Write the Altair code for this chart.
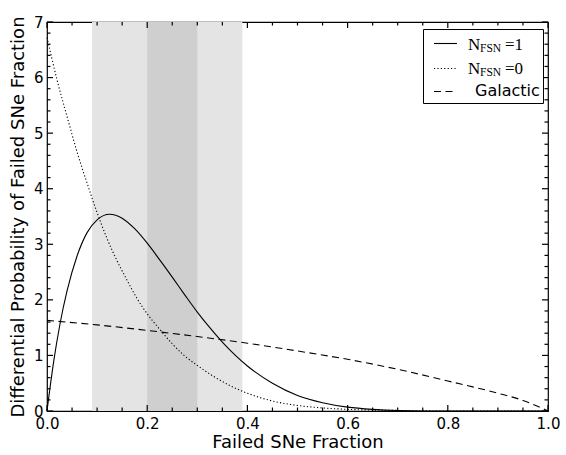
import altair as alt
import pandas as pd

# ---------------- data ----------------
x_solid = [0.0, 0.013, 0.026, 0.04, 0.06, 0.08, 0.1, 0.125, 0.15, 0.175, 0.2, 0.225,
           0.25, 0.275, 0.3, 0.325, 0.35, 0.375, 0.4, 0.45, 0.5, 0.55, 0.6, 0.65,
           0.7, 0.8, 0.9, 1.0]
y_solid = [0.0, 0.87, 1.57, 2.16, 2.79, 3.21, 3.44, 3.54, 3.47, 3.28, 3.02, 2.72,
           2.41, 2.09, 1.78, 1.5, 1.24, 1.01, 0.81, 0.5, 0.28, 0.15, 0.07, 0.03,
           0.01, 0.0, 0.0, 0.0]

x_dotted = [0.0, 0.02, 0.04, 0.06, 0.08, 0.1, 0.12, 0.14, 0.16, 0.18, 0.2, 0.225,
            0.25, 0.275, 0.3, 0.333, 0.367, 0.4, 0.45, 0.5, 0.55, 0.6, 0.7, 0.8, 1.0]
y_dotted = [6.72, 5.96, 5.3, 4.66, 4.1, 3.57, 3.1, 2.7, 2.35, 2.02, 1.75, 1.47,
            1.21, 0.99, 0.82, 0.62, 0.45, 0.32, 0.18, 0.1, 0.055, 0.03, 0.01, 0.0, 0.0]

x_dashed = [0.0, 0.1, 0.2, 0.3, 0.4, 0.5, 0.6, 0.7, 0.8, 0.9, 0.95, 1.0]
y_dashed = [1.63, 1.55, 1.45, 1.34, 1.22, 1.08, 0.93, 0.75, 0.54, 0.32, 0.19, 0.0]

band_lo = [0.09, 0.2]
band_hi = [0.39, 0.3]
band_color = ["#e4e4e4", "#cfcfcf"]

x_major = [0.0, 0.2, 0.4, 0.6, 0.8, 1.0]
x_minor = [0.05, 0.1, 0.15, 0.25, 0.3, 0.35, 0.45, 0.5, 0.55, 0.65, 0.7, 0.75, 0.85, 0.9, 0.95]
y_major = [0, 1, 2, 3, 4, 5, 6, 7]
y_minor = [round(i * 0.2, 1) for i in range(36) if i % 5 != 0]

legend_main = ["N", "N"]
legend_sub = ["FSN", "FSN"]
legend_rel = ["=1", "=0"]
legend_plain = "Galactic"

# ---------------- chart ----------------
W, H = 501, 389
X0, X1, Y0, Y1 = 0.0, 1.0, 0.0, 7.0
FONT = "DejaVu Sans"

xscale = alt.Scale(domain=[X0, X1], nice=False, zero=False)
yscale = alt.Scale(domain=[Y0, Y1], nice=False, zero=False)
xaxis = alt.Axis(values=x_major, format=".1f", title="Failed SNe Fraction", labelFlush=False,
                 labelPadding=5, titleX=W / 2, titleY=36, titleBaseline="alphabetic")
yaxis = alt.Axis(values=y_major, format="d", title="Differential Probability of Failed SNe Fraction",
                 labelFlush=False, labelPadding=4, titleX=-23.5, titleY=H / 2,
                 titleBaseline="alphabetic", titleAngle=-90, titleAlign="center")


def X(f):
    return alt.X(f"{f}:Q", scale=xscale, axis=xaxis)


def Y(f):
    return alt.Y(f"{f}:Q", scale=yscale, axis=yaxis)


bands = alt.Chart(pd.DataFrame({"x": band_lo, "x2": band_hi, "c": band_color})).mark_rect(
    strokeWidth=0
).encode(x=X("x"), x2="x2:Q", y=alt.value(0), y2=alt.value(H), color=alt.Color("c:N", scale=None))


def curve(xs, ys, dash=None):
    kw = dict(color="black", strokeWidth=1.1, interpolate="monotone")
    if dash is not None:
        kw["strokeDash"] = dash
    return alt.Chart(pd.DataFrame({"x": xs, "y": ys})).mark_line(**kw).encode(x=X("x"), y=Y("y"))


solid = curve(x_solid, y_solid)
dotted = curve(x_dotted, y_dotted, [1.2, 2.2])
dashed = curve(x_dashed, y_dashed, [7, 4.5])

# ---- inward frame ticks (axis decoration), placed with the same linear map as the axes ----
dummy = pd.DataFrame({"a": [0]})
MAJ, MIN, TW = 6, 3.5, 1.2


def px(v):
    return (v - X0) / (X1 - X0) * W


def py(v):
    return H - (v - Y0) / (Y1 - Y0) * H


tick_layers = []
for vals, ln in ((x_major, MAJ), (x_minor, MIN)):
    for v in vals:
        p = px(v)
        for ya, yb in ((H, H - ln), (0, ln)):
            tick_layers.append(alt.Chart(dummy).mark_rule(color="black", strokeWidth=TW).encode(
                x=alt.value(p), x2=alt.value(p), y=alt.value(ya), y2=alt.value(yb)))
for vals, ln in ((y_major, MAJ), (y_minor, MIN)):
    for v in vals:
        p = py(v)
        for xa, xb in ((0, ln), (W, W - ln)):
            tick_layers.append(alt.Chart(dummy).mark_rule(color="black", strokeWidth=TW).encode(
                x=alt.value(xa), x2=alt.value(xb), y=alt.value(p), y2=alt.value(p)))

leg_box = alt.Chart(dummy).mark_rect(fill="white", stroke="black", strokeWidth=1).encode(
    x=alt.value(376.5), x2=alt.value(496.5), y=alt.value(7.5), y2=alt.value(81.5))

row_line_y = [21.5, 46.5, 69.5]
row_text_y = [27.5, 51.5, 74]
dashes = [None, [1.2, 2.2], [7, 4.5]]
leg_layers = [leg_box]
for i in range(3):
    kw = dict(color="black", strokeWidth=1.1)
    if dashes[i] is not None:
        kw["strokeDash"] = dashes[i]
    leg_layers.append(alt.Chart(dummy).mark_rule(**kw).encode(
        x=alt.value(387), x2=alt.value(410), y=alt.value(row_line_y[i]), y2=alt.value(row_line_y[i])))

for i in range(2):
    leg_layers.append(alt.Chart(dummy).mark_text(
        align="left", baseline="alphabetic", font="Liberation Serif", fontSize=17, color="black",
        text=legend_main[i]).encode(x=alt.value(421), y=alt.value(row_text_y[i])))
    leg_layers.append(alt.Chart(dummy).mark_text(
        align="left", baseline="alphabetic", font="Liberation Serif", fontSize=11.5, color="black",
        text=legend_sub[i]).encode(x=alt.value(433), y=alt.value(row_text_y[i] + 2)))
    leg_layers.append(alt.Chart(dummy).mark_text(
        align="left", baseline="alphabetic", font="Liberation Serif", fontSize=17, color="black",
        text=legend_rel[i]).encode(x=alt.value(458), y=alt.value(row_text_y[i])))

leg_layers.append(alt.Chart(dummy).mark_text(
    align="left", baseline="alphabetic", font=FONT, fontSize=16, color="black",
    text=legend_plain).encode(x=alt.value(428), y=alt.value(row_text_y[2])))

chart = alt.layer(bands, dashed, dotted, solid, *tick_layers, *leg_layers).properties(
    width=W, height=H,
    autosize=alt.AutoSizeParams(type="none"),
    padding={"left": 47, "top": 22, "right": 18, "bottom": 44},
    background="white",
).configure_view(
    stroke="black", strokeWidth=1.2
).configure_axis(
    labelFont=FONT, labelFontSize=15, labelColor="black",
    titleFont=FONT, titleFontSize=18, titleFontWeight="normal", titleColor="black",
    ticks=False, domain=False, grid=False,
)

chart.save("out.html", embed_options={"renderer": "svg", "actions": False})
